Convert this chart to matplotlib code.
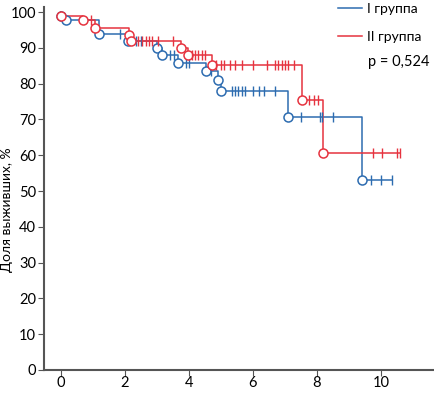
import numpy as np
import matplotlib
matplotlib.use('Agg')
import matplotlib.pyplot as plt

plt.rcParams['font.family'] = ['Lato', 'DejaVu Sans']

# I группа: event times / survival after event, censored times
g1_events = [0.0, 0.16, 1.2, 2.1, 3.0, 3.15, 3.65, 4.55, 4.9, 5.0, 7.1, 9.4]
g1_surv = [98.9, 97.7, 94.0, 92.0, 90.0, 88.0, 85.7, 83.5, 81.0, 78.0, 70.6, 53.0]
g1_cens = [1.85, 2.35, 2.5, 3.4, 3.55, 3.9, 4.0, 4.7, 5.35, 5.45, 5.55, 5.65, 5.75,
           6.0, 6.2, 6.35, 6.7, 7.5, 8.1, 8.15, 8.5, 9.7, 10.0, 10.35]

# II группа
g2_events = [0.0, 0.7, 1.06, 2.13, 2.2, 3.75, 3.97, 4.72, 7.55, 8.2]
g2_surv = [98.9, 97.7, 95.5, 93.5, 91.9, 90.0, 88.0, 85.2, 75.5, 60.5]
g2_cens = [0.95, 2.4, 2.55, 2.65, 2.75, 2.85, 3.05, 3.5, 4.1, 4.2, 4.3, 4.4, 4.5,
           4.85, 5.0, 5.1, 5.3, 5.45, 5.65, 6.0, 6.45, 6.7, 6.8, 6.9, 7.0, 7.1, 7.3,
           7.75, 7.9, 8.05, 9.75, 10.05, 10.5, 10.6]

blue = '#2d6cb0'
red = '#e6333f'


def km_plot(ax, ev, sv, cens, color, label):
    ev = np.array(ev)
    sv = np.array(sv)
    end = max(cens[-1], ev[-1])
    x = np.concatenate([[0], ev, [end]])
    y = np.concatenate([[100], sv, [sv[-1]]])
    ax.step(x, y, where='post', color=color, lw=1.1, label=label, zorder=2)
    ax.plot(ev, sv, 'o', mfc='white', mec=color, mew=1.1, ms=6.5, zorder=3)
    c = np.array(cens)
    idx = np.searchsorted(ev, c, side='right') - 1
    cy = np.where(idx >= 0, sv[np.clip(idx, 0, None)], 100)
    ax.plot(c, cy, '|', color=color, ms=6.5, mew=1.0, zorder=3)


fig = plt.figure(figsize=(4.34, 3.94), dpi=100)
ax = fig.add_axes([0.101, 0.061, 0.899, 0.921])

km_plot(ax, g1_events, g1_surv, g1_cens, blue, 'I группа')
km_plot(ax, g2_events, g2_surv, g2_cens, red, 'II группа')

ax.set_xlim(-0.53, 11.66)
ax.set_ylim(0, 101.4)
ax.set_xticks([0, 2, 4, 6, 8, 10])
ax.set_yticks(range(0, 101, 10))
for s in ['top', 'right']:
    ax.spines[s].set_visible(False)
for s in ['left', 'bottom']:
    ax.spines[s].set_color('#555555')
    ax.spines[s].set_linewidth(1.5)
ax.tick_params(axis='both', labelsize=10.5, length=4, color='#555555', pad=1.5)
ax.tick_params(axis='x', pad=0.5)

fig.text(7 / 434, 1 - 210 / 394, 'Доля выживших, %', rotation=90, fontsize=10,
         ha='center', va='center')

leg = ax.legend(loc='upper right', bbox_to_anchor=(1.0, 1.045), frameon=False,
                fontsize=10, handlelength=1.7, labelspacing=1.15, handletextpad=0.4)
fig.text(430 / 434, 1 - 62 / 394, 'p = 0,524', ha='right', va='center',
         fontsize=10.5)

fig.savefig('out.png', dpi=100)
